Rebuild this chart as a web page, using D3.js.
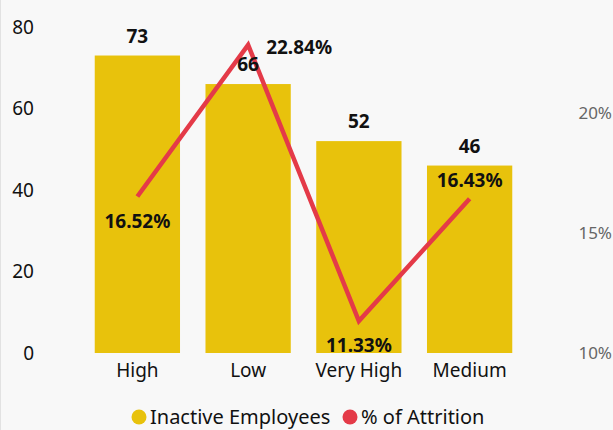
<!DOCTYPE html>
<html>
<head>
<meta charset="utf-8">
<script src="https://cdn.jsdelivr.net/npm/d3@7"></script>
<style>
  body { margin: 0; background: #f8f8f8; }
  svg { display: block; font-family: "Segoe UI", "Noto Sans", sans-serif; }
</style>
</head>
<body>
<script>
// chart data
var categories = ["High", "Low", "Very High", "Medium"];
var inactiveEmployees = [73, 66, 52, 46];
var attritionPct = [16.52, 22.84, 11.33, 16.43];
var leftTicks = [0, 20, 40, 60, 80];
var rightTicks = [10, 15, 20];
var seriesNames = ["Inactive Employees", "% of Attrition"];

// where each attrition label sits relative to its point
var labelPlace = ["below", "right", "below", "above"];

var width = 613, height = 430;
var barColor = "#e8c20c", lineColor = "#e43a48";

var svg = d3.select("body").append("svg")
    .attr("width", width)
    .attr("height", height);

svg.append("rect").attr("width", width).attr("height", height).attr("fill", "#f8f8f8");
svg.append("line").attr("x1", 0.5).attr("x2", 0.5).attr("y1", 0).attr("y2", height)
    .attr("stroke", "#e2e2e2");

var plotTop = 27, plotBottom = 353;

var x = d3.scaleBand().domain(categories).range([82, 525]).paddingInner(0.23).paddingOuter(0.115);
var y = d3.scaleLinear().domain([0, 80]).range([plotBottom, plotTop]);
var y2 = d3.scaleLinear().domain([10, 10 + (plotBottom - plotTop) / 24]).range([plotBottom, plotTop]);

// left axis
var yAxis = d3.axisLeft(y).tickValues(leftTicks).tickSize(0).tickPadding(0);
var gy = svg.append("g").attr("transform", "translate(34,0)").call(yAxis)
    .attr("font-family", null);
gy.select(".domain").remove();
gy.selectAll("text").attr("font-size", "19px").attr("fill", "#111");

// right axis
var y2Axis = d3.axisRight(y2).tickValues(rightTicks).tickSize(0).tickPadding(0)
    .tickFormat(function(d) { return d + "%"; });
var gy2 = svg.append("g").attr("transform", "translate(612,0)").call(y2Axis)
    .attr("font-family", null);
gy2.select(".domain").remove();
gy2.selectAll("text").attr("font-size", "17px").attr("fill", "#666").attr("text-anchor", "end");

// category axis
var xAxis = d3.axisBottom(x).tickSize(0).tickPadding(0);
var gx = svg.append("g").attr("transform", "translate(0," + (plotBottom + 10) + ")").call(xAxis)
    .attr("font-family", null);
gx.select(".domain").remove();
gx.selectAll("text").attr("font-size", "19px").attr("fill", "#111");

// bars
svg.append("g").selectAll("rect")
    .data(inactiveEmployees)
    .enter().append("rect")
      .attr("x", function(d, i) { return x(categories[i]); })
      .attr("y", function(d) { return y(d); })
      .attr("width", x.bandwidth())
      .attr("height", function(d) { return plotBottom - y(d); })
      .attr("fill", barColor);

// line
var line = d3.line()
    .x(function(d, i) { return x(categories[i]) + x.bandwidth() / 2; })
    .y(function(d) { return y2(d); });

svg.append("path")
    .datum(attritionPct)
    .attr("d", line)
    .attr("fill", "none")
    .attr("stroke", lineColor)
    .attr("stroke-width", 4.5);

// bar labels
svg.append("g").selectAll("text")
    .data(inactiveEmployees)
    .enter().append("text")
      .attr("x", function(d, i) { return x(categories[i]) + x.bandwidth() / 2; })
      .attr("y", function(d) { return y(d) - 13; })
      .attr("text-anchor", "middle")
      .attr("font-size", "19px")
      .attr("font-weight", "bold")
      .attr("fill", "#111")
      .text(function(d) { return d; });

// line labels
svg.append("g").selectAll("text")
    .data(attritionPct)
    .enter().append("text")
      .attr("x", function(d, i) {
        var cx = x(categories[i]) + x.bandwidth() / 2;
        return labelPlace[i] == "right" ? cx + 18 : cx;
      })
      .attr("y", function(d, i) {
        var cy = y2(d);
        if (labelPlace[i] == "below") return cy + 31;
        if (labelPlace[i] == "above") return cy - 12;
        return cy + 9;
      })
      .attr("text-anchor", function(d, i) { return labelPlace[i] == "right" ? "start" : "middle"; })
      .attr("font-size", "19px")
      .attr("font-weight", "bold")
      .attr("fill", "#111")
      .text(function(d) { return d.toFixed(2) + "%"; });

// legend
var legend = svg.append("g").selectAll("g")
    .data(seriesNames)
    .enter().append("g")
      .attr("transform", function(d, i) { return "translate(" + [139, 350][i] + ",417)"; });

legend.append("circle")
    .attr("r", 7.5)
    .attr("fill", function(d, i) { return i == 0 ? barColor : lineColor; });

legend.append("text")
    .attr("x", 11)
    .attr("dy", "0.35em")
    .attr("font-size", "20px")
    .attr("fill", "#111")
    .text(function(d) { return d; });
</script>
</body>
</html>
